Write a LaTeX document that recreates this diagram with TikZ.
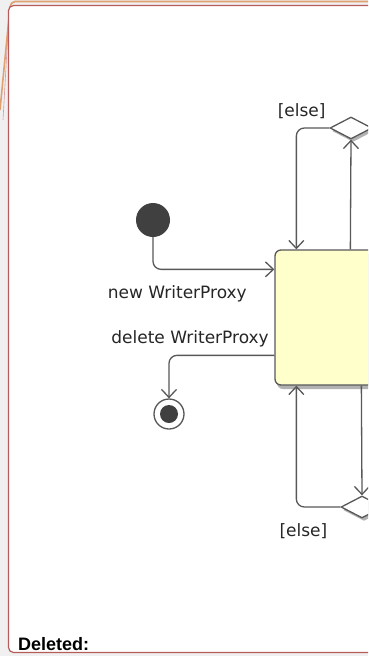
\documentclass[tikz,border=0pt]{standalone}
\usepackage{fontspec}
\setmainfont{DejaVu Sans}
\newfontfamily\headfont{Liberation Sans}
\usetikzlibrary{arrows.meta,positioning,calc,shapes.geometric,shadows}
\definecolor{pagegray}{HTML}{F0F0F0}
\definecolor{framered}{HTML}{B85A5A}
\definecolor{pageorange}{HTML}{E0A070}
\definecolor{linegray}{HTML}{585858}
\definecolor{nodedark}{HTML}{404040}
\definecolor{statefill}{HTML}{FFFFCC}

\begin{document}
\begin{tikzpicture}[x=1pt, y=-1pt, >={Straight Barb[length=8pt,width=15pt]},
  every node/.style={font=\fontsize{17}{19}\selectfont, text=black!85},
  flow/.style={draw=linegray, line width=1.3pt, rounded corners=8pt},
  initial/.style={circle, fill=nodedark, draw=none, minimum size=34pt, inner sep=0pt},
  final/.style={circle, draw=linegray, line width=1.3pt, fill=white, minimum size=30pt, inner sep=0pt,
    path picture={\fill[nodedark] (path picture bounding box.center) circle (9pt);}},
  state/.style={rectangle, rounded corners=6pt, draw=linegray, line width=1.3pt, fill=statefill,
    minimum width=110pt, minimum height=135pt, inner sep=0pt,
    drop shadow={shadow xshift=2pt, shadow yshift=-4pt, fill=gray!60, opacity=1}},
  choice/.style={diamond, draw=linegray, line width=1.3pt, fill=white, minimum width=42pt,
    minimum height=22pt, inner sep=0pt,
    drop shadow={shadow xshift=2pt, shadow yshift=-3pt, fill=gray!60, opacity=1}},
  guard/.style={draw=none, inner sep=1pt}]
  \useasboundingbox (0,0) rectangle (368,656);
  \clip (0,0) rectangle (368,656);
  % page behind the diagram
  \fill[pagegray] (0,0) rectangle (368,656);
  \draw[pageorange, line width=1.6pt] (370,1.5) -- (15,1.5) to[out=180,in=80] (10,7) -- (0,110);
  \draw[framered!60, line width=0.6pt] (9,14) -- (3,120);
  \draw[framered, line width=1.2pt, fill=white, rounded corners=5pt] (8.5,5.5) rectangle (385,652.5);
  \node[font=\headfont\bfseries\fontsize{18}{20}\selectfont, anchor=base west, inner sep=0pt, text=black]
    (title) at (18,650) {Deleted:};

  % states
  \node[state] (writer) at (330,317.5) {};
  \node[initial] (start) at (153,220) {};
  \node[final] (end) at (169,414) {};
  \node[choice] (dtop) at (351,128) {};
  \node[choice] (dbot) at (362,507) {};

  % transitions
  \draw[flow, ->] (start) |- ($(writer.north west)+(0,20)$)
    node[guard, pos=0.6, below=15pt] {new WriterProxy};
  \draw[flow, ->] ($(writer.north west)+(0,106)$) -| (end)
    node[guard, pos=0.4, above=7pt] {delete WriterProxy};
  \draw[flow, ->] ($(writer.north west)+(76,0)$) -- (dtop.south);
  \draw[flow, ->] (dtop.west) -| ($(writer.north west)+(22,0)$)
    node[guard, pos=0.42, above=8pt] {[else]};
  \draw[flow, ->] ($(writer.south west)+(87,0)$) -- (dbot.north);
  \draw[flow, ->] (dbot.west) -| ($(writer.south west)+(22,0)$)
    node[guard, pos=0.42, below=15pt] {[else]};
\end{tikzpicture}
\end{document}
